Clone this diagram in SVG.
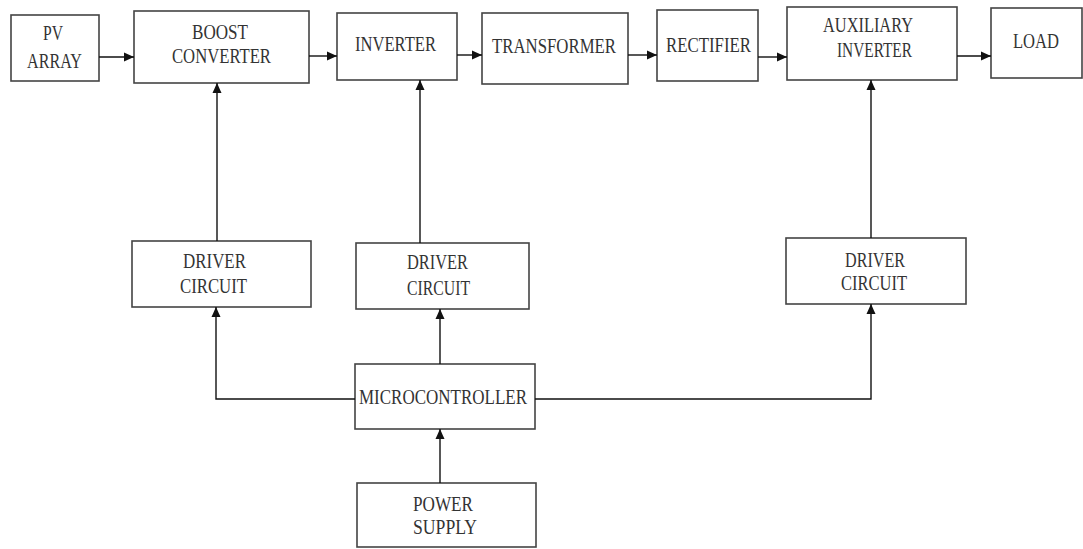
<svg xmlns="http://www.w3.org/2000/svg" width="1083" height="549" viewBox="0 0 1083 549">
<style>
.box{fill:#fff;stroke:#444;stroke-width:1.6}
.t{font-family:'Liberation Serif','Times New Roman','DejaVu Serif',serif;font-size:20px;fill:#333;text-anchor:middle}
.c{fill:none;stroke:#111;stroke-width:1.4}
</style>
<defs>
<marker id="ah" viewBox="0 0 10 10" refX="10" refY="5" markerWidth="10" markerHeight="10" markerUnits="userSpaceOnUse" orient="auto">
<path d="M0,0.5 L10,5 L0,9.5 Z" fill="#111"/>
</marker>
</defs>
<rect width="1083" height="549" fill="#fff"/>
<g id="pv"><rect class="box" x="11" y="15" width="88" height="66"/><text class="t" x="53" y="40" textLength="20" lengthAdjust="spacingAndGlyphs">PV</text><text class="t" x="54.5" y="68" textLength="55" lengthAdjust="spacingAndGlyphs">ARRAY</text></g>
<g id="boost"><rect class="box" x="134" y="11" width="175" height="72"/><text class="t" x="220" y="39" textLength="56" lengthAdjust="spacingAndGlyphs">BOOST</text><text class="t" x="221.5" y="63" textLength="99" lengthAdjust="spacingAndGlyphs">CONVERTER</text></g>
<g id="inverter"><rect class="box" x="337" y="13" width="120" height="67"/><text class="t" x="395.5" y="51" textLength="81" lengthAdjust="spacingAndGlyphs">INVERTER</text></g>
<g id="transformer"><rect class="box" x="482" y="13" width="146" height="71"/><text class="t" x="554" y="53" textLength="124" lengthAdjust="spacingAndGlyphs">TRANSFORMER</text></g>
<g id="rectifier"><rect class="box" x="657" y="10" width="101" height="71"/><text class="t" x="708.5" y="52" textLength="85" lengthAdjust="spacingAndGlyphs">RECTIFIER</text></g>
<g id="aux"><rect class="box" x="787" y="7" width="170" height="73"/><text class="t" x="868" y="32" textLength="90" lengthAdjust="spacingAndGlyphs">AUXILIARY</text><text class="t" x="874.5" y="57" textLength="75" lengthAdjust="spacingAndGlyphs">INVERTER</text></g>
<g id="load"><rect class="box" x="991" y="8" width="91" height="70"/><text class="t" x="1036" y="48" textLength="46" lengthAdjust="spacingAndGlyphs">LOAD</text></g>
<g id="driver1"><rect class="box" x="132" y="241" width="179" height="66"/><text class="t" x="214.5" y="268" textLength="63" lengthAdjust="spacingAndGlyphs">DRIVER</text><text class="t" x="213.5" y="293" textLength="67" lengthAdjust="spacingAndGlyphs">CIRCUIT</text></g>
<g id="driver2"><rect class="box" x="356" y="243" width="173" height="66"/><text class="t" x="437.5" y="269" textLength="61" lengthAdjust="spacingAndGlyphs">DRIVER</text><text class="t" x="438.5" y="295" textLength="63" lengthAdjust="spacingAndGlyphs">CIRCUIT</text></g>
<g id="driver3"><rect class="box" x="786" y="238" width="180" height="66"/><text class="t" x="875" y="267" textLength="60" lengthAdjust="spacingAndGlyphs">DRIVER</text><text class="t" x="874" y="290" textLength="66" lengthAdjust="spacingAndGlyphs">CIRCUIT</text></g>
<g id="micro"><rect class="box" x="355" y="364" width="180" height="65"/><text class="t" x="443" y="404" textLength="168" lengthAdjust="spacingAndGlyphs">MICROCONTROLLER</text></g>
<g id="power"><rect class="box" x="357" y="483" width="179" height="64"/><text class="t" x="443" y="511" textLength="60" lengthAdjust="spacingAndGlyphs">POWER</text><text class="t" x="445" y="534" textLength="64" lengthAdjust="spacingAndGlyphs">SUPPLY</text></g>
<g id="connectors">
<line class="c" x1="99" y1="57" x2="134" y2="57" marker-end="url(#ah)"/>
<line class="c" x1="309" y1="56" x2="337" y2="56" marker-end="url(#ah)"/>
<line class="c" x1="457" y1="55" x2="482" y2="55" marker-end="url(#ah)"/>
<line class="c" x1="628" y1="55" x2="657" y2="55" marker-end="url(#ah)"/>
<line class="c" x1="758" y1="57" x2="787" y2="57" marker-end="url(#ah)"/>
<line class="c" x1="957" y1="56" x2="991" y2="56" marker-end="url(#ah)"/>
<line class="c" x1="217" y1="241" x2="217" y2="83" marker-end="url(#ah)"/>
<line class="c" x1="420" y1="243" x2="420" y2="80" marker-end="url(#ah)"/>
<line class="c" x1="871" y1="238" x2="871" y2="80" marker-end="url(#ah)"/>
<polyline class="c" points="355,399 216,399 216,307" marker-end="url(#ah)"/>
<line class="c" x1="440" y1="364" x2="440" y2="309" marker-end="url(#ah)"/>
<polyline class="c" points="535,399 871,399 871,304" marker-end="url(#ah)"/>
<line class="c" x1="440" y1="483" x2="440" y2="429" marker-end="url(#ah)"/>
</g>
</svg>
